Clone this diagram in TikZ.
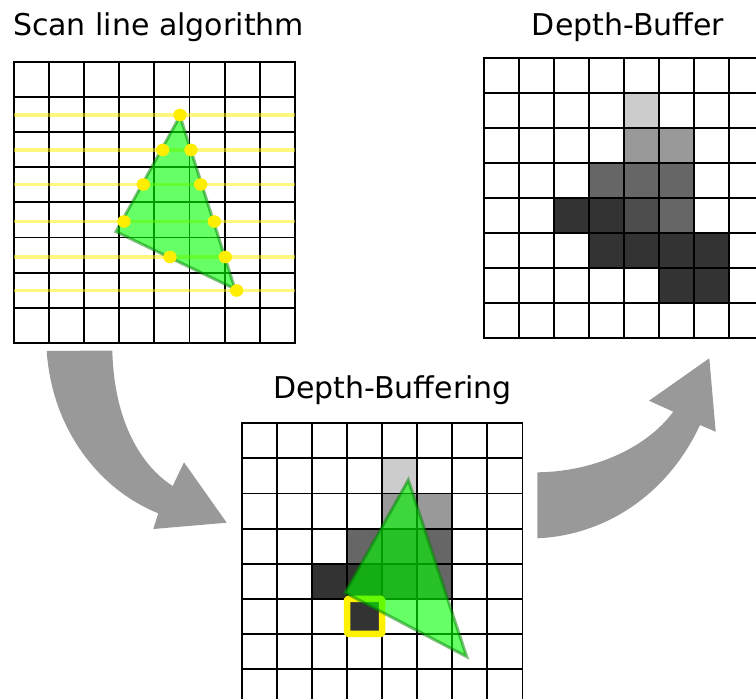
\documentclass[tikz,border=0pt]{standalone}
\usepackage{fontspec}
\setmainfont{DejaVu Sans}
\definecolor{arrowgray}{HTML}{999999}
\definecolor{gA}{HTML}{CCCCCC}
\definecolor{gB}{HTML}{999999}
\definecolor{gC}{HTML}{666666}
\definecolor{gD}{HTML}{333333}
\definecolor{gE}{HTML}{4D4D4D}
\definecolor{trifill}{HTML}{00FF00}
\definecolor{triedge}{HTML}{008000}
\definecolor{dotyellow}{HTML}{FFEE00}
\newcommand\pixcell[3]{\fill[#3] (#1,#2) rectangle ++(1,1);}
\newcommand\gridlines{\foreach \i in {0,...,8} {\draw[gridline] (\i,0) -- (\i,8); \draw[gridline] (0,\i) -- (8,\i);}}
\begin{document}
\begin{tikzpicture}[x=1pt,y=-1pt,
  gridline/.style={line width=1.9pt, black, line cap=rect},
  title/.style={font=\fontsize{30}{36}\selectfont, inner sep=0pt, anchor=base},
  tri/.style={fill=trifill, fill opacity=0.6, draw=triedge, draw opacity=0.5, line width=3pt, line join=miter},
  scanline/.style={draw=yellow, draw opacity=0.5, line width=3.2pt},
  dot/.style={fill=dotyellow},
  bigarrow/.style={fill=arrowgray},
  markbox/.style={draw=yellow, line width=6.5pt, rounded corners=1.5pt}
]
\useasboundingbox (0,0) rectangle (756,699);
\clip (0,0) rectangle (756,699);
\fill[white] (0,0) rectangle (756,699);

% titles
\node[title] (t1) at (158.5,35) {Scan line algorithm};
\node[title] (t2) at (628,35) {Depth-Buffer};
\node[title] (t3) at (392.5,398.3) {Depth-Buffering};

% grid 1: scan line
\begin{scope}[shift={(14,62)}, x=35.1pt, y=-35.1pt]
  \gridlines
\end{scope}
\foreach \yy in {115,150,184.5,221.5,257,290.5} {\draw[scanline] (14,\yy) -- (295,\yy);}
\draw[tri] (180,116) -- (116,231.7) -- (235,289) -- cycle;
\foreach \px/\py in {180/115, 162.7/150, 191/150, 143.3/184.5, 200.7/184.5, 124/221.5, 214.3/221.5, 170/257, 225.3/257, 236.7/290.5}
  {\fill[dot] (\px,\py) ellipse [x radius=6.7, y radius=6.3];}

% grid 2: depth buffer
\begin{scope}[shift={(484,58.3)}, x=35.0pt, y=-35.0pt]
  \pixcell{4}{1}{gA}
  \pixcell{4}{2}{gB} \pixcell{5}{2}{gB}
  \pixcell{3}{3}{gC} \pixcell{4}{3}{gC} \pixcell{5}{3}{gC}
  \pixcell{2}{4}{gD} \pixcell{3}{4}{gD} \pixcell{4}{4}{gE} \pixcell{5}{4}{gC}
  \pixcell{3}{5}{gD} \pixcell{4}{5}{gD} \pixcell{5}{5}{gD} \pixcell{6}{5}{gD}
  \pixcell{5}{6}{gD} \pixcell{6}{6}{gD}
  \gridlines
\end{scope}

% grid 3: depth buffering
\begin{scope}[shift={(241.7,423.3)}, x=35.1pt, y=-35.1pt]
  \pixcell{4}{1}{gA}
  \pixcell{4}{2}{gB} \pixcell{5}{2}{gB}
  \pixcell{3}{3}{gC} \pixcell{4}{3}{gC} \pixcell{5}{3}{gC}
  \pixcell{2}{4}{gD} \pixcell{3}{4}{gD} \pixcell{4}{4}{gE} \pixcell{5}{4}{gC}
  \pixcell{3}{5}{gD}
  \gridlines
  \draw[markbox] (3,5) rectangle (4,6);
\end{scope}
\draw[tri] (408.3,480) -- (345,592.7) -- (466.7,656.7) -- cycle;

% curved arrows
\fill[bigarrow] (46.7,351) -- (112.3,350.5)
  .. controls (114,420) and (140,465) .. (172.7,486)
  -- (184,462.3) -- (226.7,522.7) -- (153.3,529) -- (158.3,513.3)
  .. controls (100,490) and (52,430) .. (46.7,351) -- cycle;
\fill[bigarrow] (537.3,472.3)
  .. controls (590,472) and (645,450) .. (673.3,411.7)
  -- (649,400.7) -- (709.3,358.3) -- (715.7,431.7) -- (700,425)
  .. controls (670,490) and (610,535) .. (537.3,538.3) -- cycle;
\end{tikzpicture}
\end{document}
